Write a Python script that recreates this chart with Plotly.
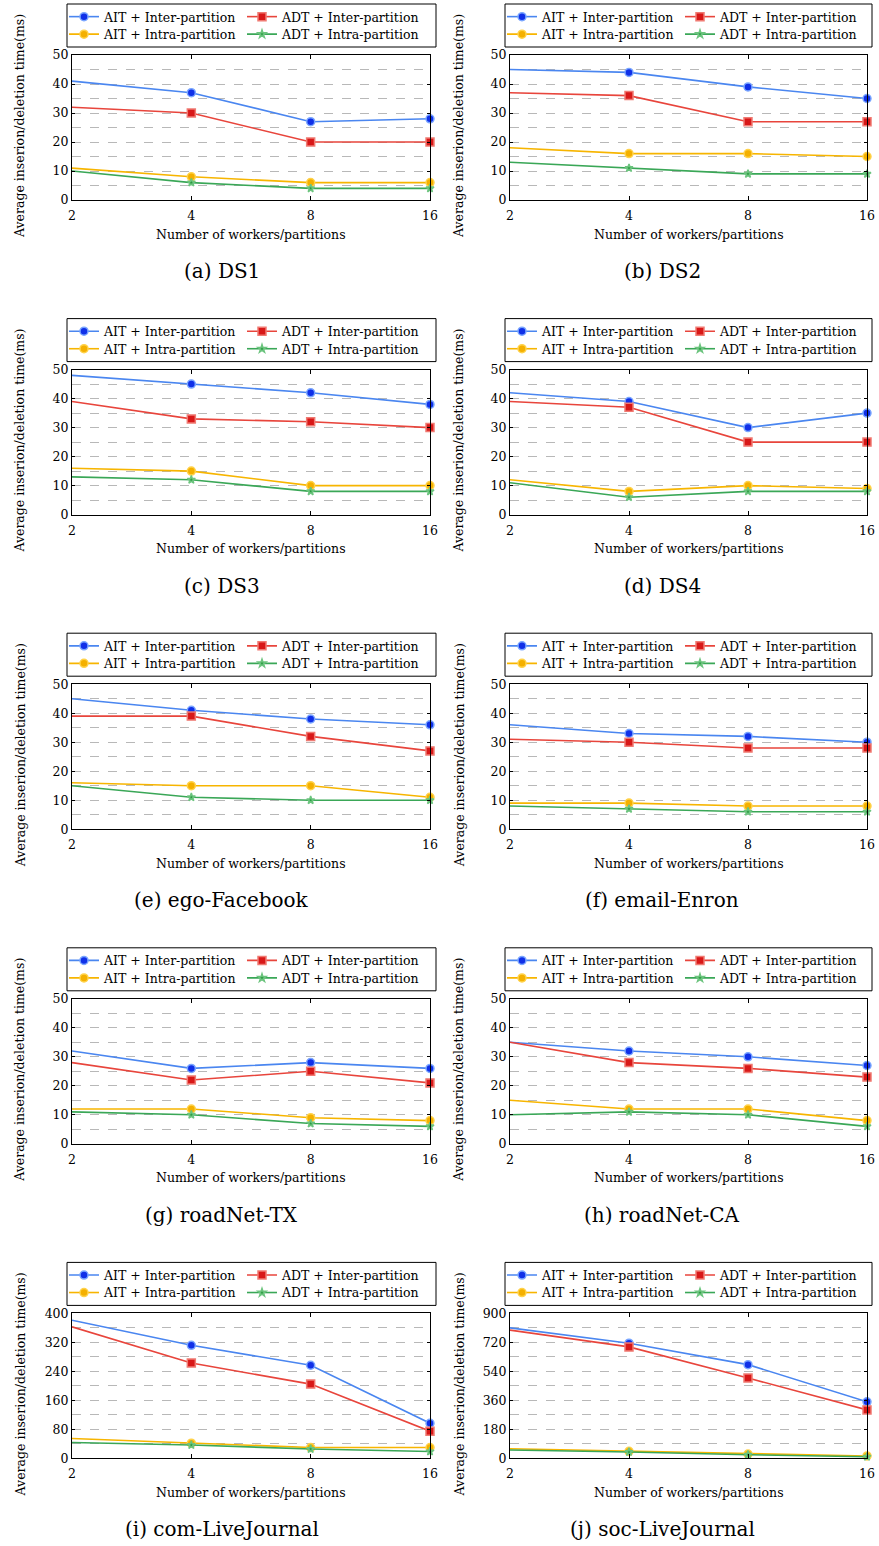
import math
import plotly.graph_objects as go

W, H = 879, 1546

# ---------------- data ----------------
workers = [2, 4, 8, 16]
worker_labels = ["2", "4", "8", "16"]
series_names = ["AIT + Inter-partition", "ADT + Inter-partition",
                "AIT + Intra-partition", "ADT + Intra-partition"]
captions = ["(a) DS1", "(b) DS2", "(c) DS3", "(d) DS4", "(e) ego-Facebook",
            "(f) email-Enron", "(g) roadNet-TX", "(h) roadNet-CA",
            "(i) com-LiveJournal", "(j) soc-LiveJournal"]
y_max = [50, 50, 50, 50, 50, 50, 50, 50, 400, 900]

ds1_ait_inter = [41, 37, 27, 28]
ds1_adt_inter = [32, 30, 20, 20]
ds1_ait_intra = [11, 8, 6, 6]
ds1_adt_intra = [10, 6, 4, 4]

ds2_ait_inter = [45, 44, 39, 35]
ds2_adt_inter = [37, 36, 27, 27]
ds2_ait_intra = [18, 16, 16, 15]
ds2_adt_intra = [13, 11, 9, 9]

ds3_ait_inter = [48, 45, 42, 38]
ds3_adt_inter = [39, 33, 32, 30]
ds3_ait_intra = [16, 15, 10, 10]
ds3_adt_intra = [13, 12, 8, 8]

ds4_ait_inter = [42, 39, 30, 35]
ds4_adt_inter = [39, 37, 25, 25]
ds4_ait_intra = [12, 8, 10, 9]
ds4_adt_intra = [11, 6, 8, 8]

fb_ait_inter = [45, 41, 38, 36]
fb_adt_inter = [39, 39, 32, 27]
fb_ait_intra = [16, 15, 15, 11]
fb_adt_intra = [15, 11, 10, 10]

enron_ait_inter = [36, 33, 32, 30]
enron_adt_inter = [31, 30, 28, 28]
enron_ait_intra = [9, 9, 8, 8]
enron_adt_intra = [8, 7, 6, 6]

tx_ait_inter = [32, 26, 28, 26]
tx_adt_inter = [28, 22, 25, 21]
tx_ait_intra = [12, 12, 9, 8]
tx_adt_intra = [11, 10, 7, 6]

ca_ait_inter = [35, 32, 30, 27]
ca_adt_inter = [35, 28, 26, 23]
ca_ait_intra = [15, 12, 12, 8]
ca_adt_intra = [10, 11, 10, 6]

comlj_ait_inter = [381, 312, 257, 97]
comlj_adt_inter = [363, 263, 205, 75]
comlj_ait_intra = [55, 42, 30, 30]
comlj_adt_intra = [44, 37, 26, 19]

soclj_ait_inter = [810, 715, 582, 351]
soclj_adt_inter = [796, 692, 499, 301]
soclj_ait_intra = [60, 44, 27, 15]
soclj_adt_intra = [52, 40, 23, 10]

panels = [
    [ds1_ait_inter, ds1_adt_inter, ds1_ait_intra, ds1_adt_intra],
    [ds2_ait_inter, ds2_adt_inter, ds2_ait_intra, ds2_adt_intra],
    [ds3_ait_inter, ds3_adt_inter, ds3_ait_intra, ds3_adt_intra],
    [ds4_ait_inter, ds4_adt_inter, ds4_ait_intra, ds4_adt_intra],
    [fb_ait_inter, fb_adt_inter, fb_ait_intra, fb_adt_intra],
    [enron_ait_inter, enron_adt_inter, enron_ait_intra, enron_adt_intra],
    [tx_ait_inter, tx_adt_inter, tx_ait_intra, tx_adt_intra],
    [ca_ait_inter, ca_adt_inter, ca_ait_intra, ca_adt_intra],
    [comlj_ait_inter, comlj_adt_inter, comlj_ait_intra, comlj_adt_intra],
    [soclj_ait_inter, soclj_adt_inter, soclj_ait_intra, soclj_adt_intra],
]

# ---------------- styles ----------------
line_colors = ["#4a86f0", "#e8453c", "#f7b500", "#3aa757"]
marker_fill = ["#1030e8", "#d81818", "#f4b000", "#2a9a40"]
marker_edge = ["#7aa6ff", "#f07a72", "#ffd24a", "#6cc47e"]
marker_sym = ["circle", "square", "circle", "star"]
marker_size = [8, 8, 8, 6]

FONT = "DejaVu Serif"
TICK_SIZE = 12.5
LAB_SIZE = 12.5
ROW_DY = 314.6
COL_X = [(72, 430), (510, 867)]
LEG_BOX_X = [(67, 436), (505, 872)]
CAP_X = [222, 662]
# legend entry anchor offsets (px) relative to legend box: (dx, dy)
LEG_POS = [(0, 2), (178, 2), (0, 19.5), (178, 19.5)]


def px_x(v):
    return v / W


def px_y(v):
    return 1 - v / H


fig = go.Figure()
layout = dict(
    width=W, height=H,
    margin=dict(l=0, r=0, t=0, b=0, pad=0, autoexpand=False),
    paper_bgcolor="white", plot_bgcolor="white",
    showlegend=True,
    font=dict(family=FONT, size=TICK_SIZE, color="black"),
)
annotations = []
shapes = []

for k, vals in enumerate(panels):
    row, col = divmod(k, 2)
    off = row * ROW_DY
    ax = "" if k == 0 else str(k + 1)
    xa, ya = "x" + ax, "y" + ax
    x0, x1 = COL_X[col]
    top, bot = 55 + off, 200 + off
    ym = y_max[k]
    lx0, lx1 = LEG_BOX_X[col]

    for s in range(4):
        idx = 4 * k + s + 1
        lg = "legend" if idx == 1 else "legend%d" % idx
        fig.add_trace(go.Scatter(
            x=workers, y=vals[s], name=series_names[s],
            mode="lines+markers", xaxis=xa, yaxis=ya,
            legend=lg,
            line=dict(color=line_colors[s], width=1.6),
            marker=dict(symbol=marker_sym[s], size=marker_size[s],
                        color=marker_fill[s],
                        line=dict(color=marker_edge[s], width=1.5)),
            cliponaxis=False,
        ))
        dx, dy = LEG_POS[s]
        layout[lg] = dict(
            x=px_x(lx0 - 3 + dx), xanchor="left",
            y=px_y(off + dy), yanchor="top",
            orientation="v", bgcolor="rgba(0,0,0,0)", borderwidth=0,
            font=dict(family=FONT, size=LAB_SIZE, color="black"),
            itemwidth=30,
        )

    layout["xaxis" + ax] = dict(
        domain=[px_x(x0), px_x(x1)], anchor=ya, type="log",
        range=[math.log10(workers[0]), math.log10(workers[-1])],
        tickvals=workers, ticktext=worker_labels,
        showline=True, linecolor="black", linewidth=1, mirror="ticks",
        ticks="inside", ticklen=4, tickcolor="black",
        showgrid=False, zeroline=False, ticklabelstandoff=4,
        tickfont=dict(family=FONT, size=TICK_SIZE),
    )
    layout["yaxis" + ax] = dict(
        domain=[px_y(bot), px_y(top)], anchor=xa,
        range=[0, ym], dtick=ym / 5, tick0=0,
        showline=True, linecolor="black", linewidth=1, mirror="ticks",
        ticks="inside", ticklen=3, tickcolor="black",
        showgrid=True, gridcolor="#b8b8b8", griddash="dash", gridwidth=0.8,
        minor=dict(dtick=ym / 10, tick0=0, showgrid=True, gridcolor="#b8b8b8",
                   griddash="dash", gridwidth=0.8, ticks=""),
        zeroline=False,
        tickfont=dict(family=FONT, size=TICK_SIZE),
    )

    shapes.append(dict(type="rect", xref="paper", yref="paper",
                       x0=px_x(lx0), x1=px_x(lx1),
                       y0=px_y(47 + off), y1=px_y(4 + off),
                       line=dict(color="black", width=1),
                       fillcolor="rgba(0,0,0,0)"))

    annotations.append(dict(
        text="Number of workers/partitions", xref="paper", yref="paper",
        x=px_x((x0 + x1) / 2), y=px_y(234 + off), showarrow=False,
        xanchor="center", yanchor="middle",
        font=dict(family=FONT, size=LAB_SIZE)))
    annotations.append(dict(
        text="Average inserion/deletion time(ms)", xref="paper", yref="paper",
        x=px_x(20 + col * 439), y=px_y(126 + off), showarrow=False,
        textangle=-90, xanchor="center", yanchor="middle",
        font=dict(family=FONT, size=LAB_SIZE)))
    annotations.append(dict(
        text=captions[k], xref="paper", yref="paper",
        x=px_x(CAP_X[col]), y=px_y(271 + off), showarrow=False,
        xanchor="center", yanchor="middle",
        font=dict(family=FONT, size=20)))

layout["annotations"] = annotations
layout["shapes"] = shapes
fig.update_layout(**layout)
fig.write_html("out.html",
               config={"displayModeBar": False},
               post_script="document.body.style.margin='0';"
                           "document.body.style.overflow='hidden';")
